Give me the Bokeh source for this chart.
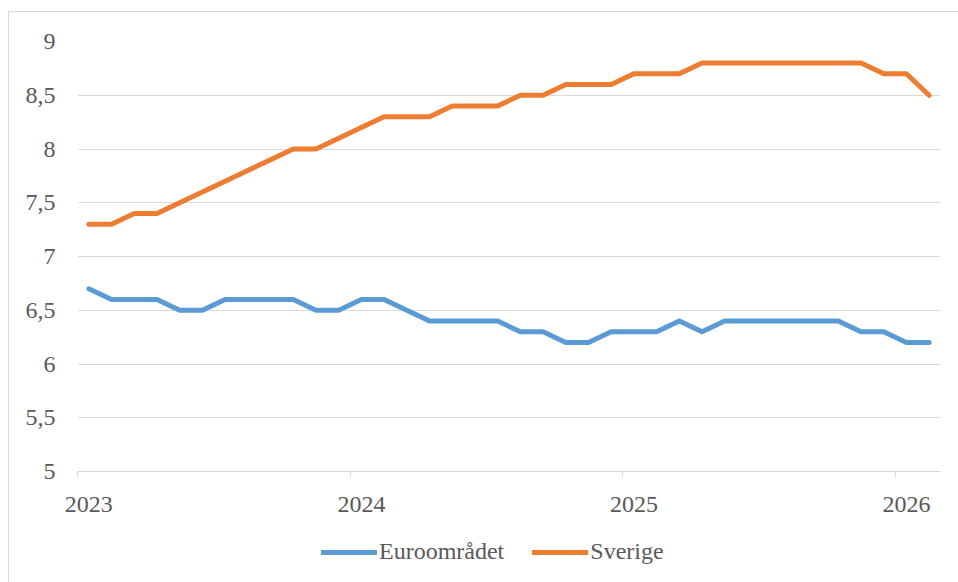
from bokeh.plotting import figure
from bokeh.layouts import column
from bokeh.models import FixedTicker, Legend, LegendItem, Range1d
from bokeh.embed import file_html
from bokeh.resources import INLINE

# ---- data ----
months = [f"{y}-{m:02d}" for y in (2023, 2024, 2025, 2026) for m in range(1, 13)][:38]
euro = [6.7, 6.6, 6.6, 6.6, 6.5, 6.5, 6.6, 6.6, 6.6, 6.6, 6.5, 6.5,
        6.6, 6.6, 6.5, 6.4, 6.4, 6.4, 6.4, 6.3, 6.3, 6.2, 6.2, 6.3,
        6.3, 6.3, 6.4, 6.3, 6.4, 6.4, 6.4, 6.4, 6.4, 6.4, 6.3, 6.3,
        6.2, 6.2]
sverige = [7.3, 7.3, 7.4, 7.4, 7.5, 7.6, 7.7, 7.8, 7.9, 8.0, 8.0, 8.1,
           8.2, 8.3, 8.3, 8.3, 8.4, 8.4, 8.4, 8.5, 8.5, 8.6, 8.6, 8.6,
           8.7, 8.7, 8.7, 8.8, 8.8, 8.8, 8.8, 8.8, 8.8, 8.8, 8.8, 8.7,
           8.7, 8.5]
series_names = ["Euroområdet", "Sverige"]
series_colors = ["#5B9BD5", "#ED7D31"]
years = ["2023", "2024", "2025", "2026"]
y_ticks = [5, 5.5, 6, 6.5, 7, 7.5, 8, 8.5, 9]
y_labels = ["5", "5,5", "6", "6,5", "7", "7,5", "8", "8,5", "9"]

# month index (mid-month position)
def month_pos(s):
    y, m = s.split("-")
    return (int(y) - 2023) * 12 + int(m) - 1 + 0.5

x = [month_pos(s) for s in months]

FONT = "Liberation Serif"
TXT = "#595959"
GRID = "#D9D9D9"

# ---- main chart ----
p = figure(width=958, height=520, output_backend="svg", toolbar_location=None,
           x_range=Range1d(0, 38), y_range=Range1d(5, 9),
           min_border_left=77, min_border_right=18, min_border_top=41,
           min_border_bottom=49)
p.outline_line_color = None
p.background_fill_color = "white"
p.border_fill_alpha = 0
p.styles = {
    "background": ("linear-gradient(#D9D9D9, #D9D9D9) 8px 11px / 1px 100% no-repeat, "
                   "linear-gradient(#D9D9D9, #D9D9D9) 8px 11px / 100% 1px no-repeat, "
                   "white"),
}

for vals, col in zip([euro, sverige], series_colors):
    p.line(x, vals, line_color=col, line_width=5,
           line_cap="round", line_join="round")

# x axis
year_starts = [(int(yy) - 2023) * 12 for yy in years]
label_pos = [v + 0.5 for v in year_starts]
p.xaxis.ticker = FixedTicker(ticks=label_pos, minor_ticks=year_starts)
p.xaxis.major_label_overrides = {v: yy for v, yy in zip(label_pos, years)}
p.xaxis.major_tick_line_color = None
p.xaxis.major_tick_in = 0
p.xaxis.major_tick_out = 0
p.xaxis.minor_tick_line_color = GRID
p.xaxis.minor_tick_in = 0
p.xaxis.minor_tick_out = 6
p.xaxis.axis_line_color = GRID
p.xaxis.major_label_text_font = FONT
p.xaxis.major_label_text_font_size = "24px"
p.xaxis.major_label_text_color = TXT
p.xaxis.major_label_standoff = 19
p.xgrid.grid_line_color = None

# y axis
p.yaxis.ticker = FixedTicker(ticks=y_ticks)
p.yaxis.major_label_overrides = {v: s for v, s in zip(y_ticks, y_labels)}
p.yaxis.axis_line_color = None
p.yaxis.major_tick_line_color = None
p.yaxis.minor_tick_line_color = None
p.yaxis.major_tick_out = 0
p.yaxis.major_tick_in = 0
p.yaxis.major_label_standoff = 22
p.yaxis.major_label_text_font = FONT
p.yaxis.major_label_text_font_size = "24px"
p.yaxis.major_label_text_color = TXT
p.ygrid.grid_line_color = GRID
p.ygrid.grid_line_width = 1

# ---- legend strip (series drawn out of its visible range; only the legend shows) ----
lf = figure(width=958, height=62, output_backend="svg", toolbar_location=None,
            x_range=Range1d(0, 1), y_range=Range1d(0, 1),
            x_axis_type=None, y_axis_type=None,
            min_border_left=0, min_border_right=0, min_border_top=0,
            min_border_bottom=0)
lf.outline_line_color = None
lf.background_fill_alpha = 0
lf.border_fill_alpha = 0
lf.styles = {
    "background": ("linear-gradient(#D9D9D9, #D9D9D9) 8px 0px / 1px 100% no-repeat, "
                   "white"),
}
items = []
for name, vals, col in zip(series_names, [euro, sverige], series_colors):
    r = lf.line(x, vals, line_color=col, line_width=5, line_cap="round")
    items.append(LegendItem(label=name, renderers=[r]))

legend = Legend(items=items, orientation="horizontal", location=(244, 17),
                padding=0, margin=0, spacing=28, label_standoff=2,
                glyph_width=56, glyph_height=24,
                label_text_font=FONT, label_text_font_size="24px",
                label_text_color=TXT, border_line_color=None,
                background_fill_alpha=0)
lf.add_layout(legend, "center")

layout = column(p, lf, spacing=0)
open("out.html", "w").write(file_html(layout, INLINE))
